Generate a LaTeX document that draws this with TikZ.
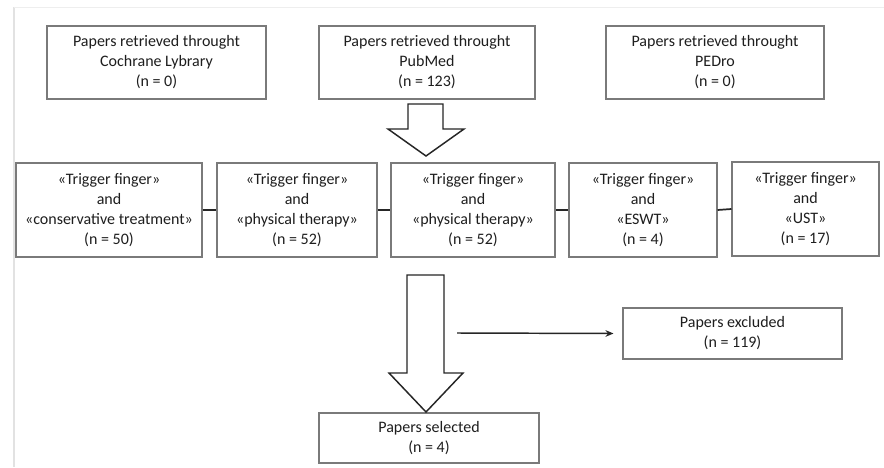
\documentclass[tikz,border=0pt]{standalone}
\usepackage{fontspec}
\setmainfont{Carlito}
\usetikzlibrary{arrows.meta,calc}
\definecolor{boxgray}{HTML}{7A7A7A}
\definecolor{textc}{HTML}{1E1E1E}
\definecolor{arrc}{HTML}{262626}
\definecolor{edgec}{HTML}{E2E2E2}
\begin{document}
\begin{tikzpicture}[x=0.75pt,y=-0.75pt,
  box/.style={draw=boxgray, line width=0.8pt, rectangle, align=center, inner sep=0pt,
    font=\fontsize{12}{15}\selectfont, text=textc},
  link/.style={draw=arrc, line width=1.3pt},
  blockarrow/.style={draw=arrc, line width=1.1pt, fill=white, line join=miter},
  sidearrow/.style={draw=arrc, line width=1.1pt, -{Stealth[length=6pt,width=5pt]}}]
\useasboundingbox (0,0) rectangle (884,467);
\fill[white] (0,0) rectangle (884,467);
\draw[edgec, line width=1.5pt] (14,7) -- (14,467);
\draw[edgec!60, line width=0.6pt] (14,7) -- (884,7);

% top row
\node[box, minimum width=219*0.75pt, minimum height=73*0.75pt] (b1) at (156.5,62.5)
  {Papers retrieved throught\\Cochrane Lybrary\\(n = 0)};
\node[box, minimum width=216*0.75pt, minimum height=73*0.75pt] (b2) at (427,62.5)
  {Papers retrieved throught\\PubMed\\(n = 123)};
\node[box, minimum width=218*0.75pt, minimum height=73*0.75pt] (b3) at (715,62.5)
  {Papers retrieved throught\\PEDro\\(n = 0)};

% middle row
\node[box, minimum width=186*0.75pt, minimum height=94*0.75pt] (m1) at (109,210)
  {«Trigger finger»\\and\\«conservative treatment»\\(n = 50)};
\node[box, minimum width=160*0.75pt, minimum height=94*0.75pt] (m2) at (297,210)
  {«Trigger finger»\\and\\«physical therapy»\\(n = 52)};
\node[box, minimum width=164*0.75pt, minimum height=94*0.75pt] (m3) at (473,210)
  {«Trigger finger»\\and\\«physical therapy»\\(n = 52)};
\node[box, minimum width=148*0.75pt, minimum height=94*0.75pt] (m4) at (643,210)
  {«Trigger finger»\\and\\«ESWT»\\(n = 4)};
\node[box, minimum width=147*0.75pt, minimum height=94*0.75pt] (m5) at (805.5,209)
  {«Trigger finger»\\and\\«UST»\\(n = 17)};

\draw[link] (m1.east) -- (m2.west);
\draw[link] (m2.east) -- (m3.west);
\draw[link] (m3.east) -- (m4.west);
\draw[link] (m4.east) -- (m5.west);

% bottom
\node[box, minimum width=219*0.75pt, minimum height=51*0.75pt] (excl) at (732.5,333.5)
  {Papers excluded\\(n = 119)};
\node[box, minimum width=220*0.75pt, minimum height=50*0.75pt] (sel) at (429,438)
  {Papers selected\\(n = 4)};

% block arrows
\draw[blockarrow] (408,104) -- (443,104) -- (443,129) -- (464,129) -- (426,156)
  -- (388,129) -- (408,129) -- cycle;
\draw[blockarrow] (407,275) -- (444,275) -- (444,373) -- (463,373) -- (426,412)
  -- (389,373) -- (407,373) -- cycle;

\coordinate (exstart) at (457,333);
\draw[sidearrow] (exstart) -- ($(excl.west)+(-9,0)$);
\end{tikzpicture}
\end{document}
